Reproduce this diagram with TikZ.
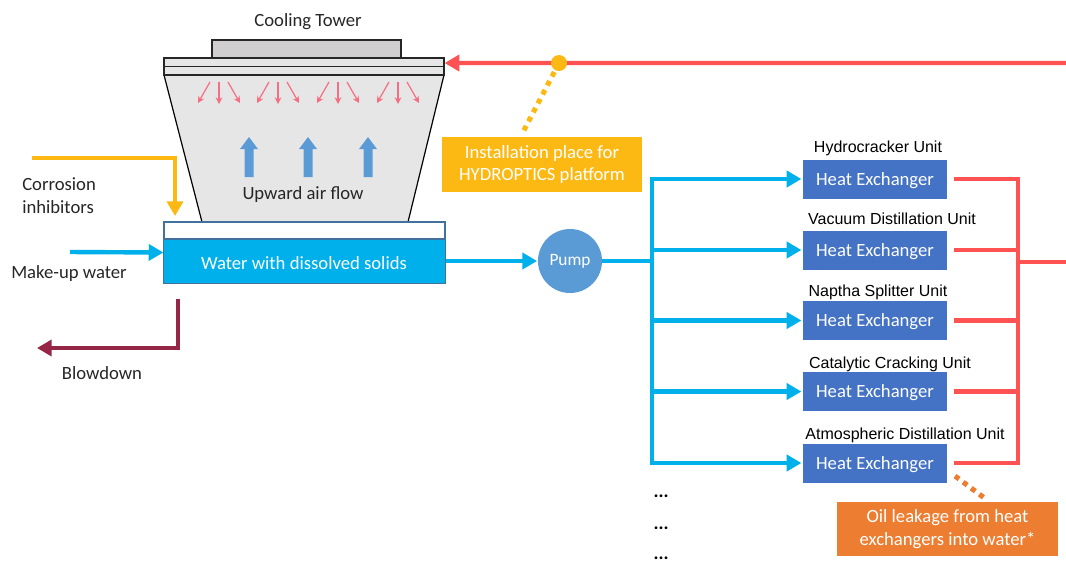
\documentclass[tikz,border=0pt]{standalone}
\usepackage{fontspec}
\setmainfont{Carlito}
\newfontfamily\arialf{Liberation Sans}
\usetikzlibrary{arrows.meta,calc}
\definecolor{cyanC}{RGB}{0,176,235}
\definecolor{redC}{RGB}{255,82,82}
\definecolor{yelC}{RGB}{253,185,19}
\definecolor{maroonC}{RGB}{150,38,70}
\definecolor{hxC}{RGB}{68,114,196}
\definecolor{pumpC}{RGB}{91,155,213}
\definecolor{oilC}{RGB}{237,125,49}
\definecolor{pinkC}{RGB}{245,110,130}
\definecolor{towerC}{RGB}{231,230,230}
\definecolor{fanC}{RGB}{208,206,206}
\definecolor{basinEdge}{RGB}{65,113,156}
\begin{document}
\begin{tikzpicture}[x=0.75pt,y=-0.75pt,
  txt/.style={font=\fontsize{14}{17}\selectfont, inner sep=0pt, text=black!85, yshift=-1.5pt},
  wtxt/.style={font=\fontsize{14}{17}\selectfont, inner sep=0pt, text=white, align=center, yshift=-1.2pt},
  unitlbl/.style={font=\arialf\fontsize{12}{14}\selectfont, inner sep=0pt, text=black},
  hxbox/.style={rectangle, fill=hxC, minimum width=108pt, minimum height=29.25pt, inner sep=0pt, text=white, font=\fontsize{14}{17}\selectfont, text depth=0.5pt},
  pipe/.style={line width=3.3pt},
  cyanline/.style={pipe, draw=cyanC},
  cyanarr/.style={pipe, draw=cyanC, -{Triangle[length=11pt,width=12pt]}},
  redline/.style={pipe, draw=redC},
  redarr/.style={pipe, draw=redC, -{Triangle[length=11pt,width=12pt]}},
  yelarr/.style={pipe, draw=yelC, -{Triangle[length=11pt,width=12pt]}},
  maroonarr/.style={pipe, draw=maroonC, -{Triangle[length=11pt,width=12pt]}},
  dotline/.style={line width=3.8pt, dash pattern=on 3.8pt off 3.8pt},
  pinkarr/.style={draw=pinkC, line width=0.9pt, -{Stealth[length=5pt,width=5pt]}},
  airarrow/.style={fill=pumpC, draw=none},
]
\useasboundingbox (0,0) rectangle (1066,562);

% ---- Cooling tower ----
\draw[fill=towerC, line width=0.9pt] (164,75) -- (444,75) -- (408,222) -- (202,222) -- cycle;
\node[draw=black!85, fill=fanC, line width=0.9pt, minimum width=141.75pt, minimum height=13.5pt, inner sep=0pt] (fan) at (306.5,49) {};
\node[draw=black!85, fill=towerC, line width=0.9pt, minimum width=210pt, minimum height=12.75pt, inner sep=0pt] (deck) at (304,66.5) {};
\draw[black!85, line width=0.9pt] (deck.west) -- (deck.east);
\node[txt] (cttitle) at (308,20) {Cooling Tower};

% spray arrows
\foreach \cx in {219,278,338,398}{
  \draw[pinkarr] (\cx-9,82) -- (\cx-21,103);
  \draw[pinkarr] (\cx,82) -- (\cx,104);
  \draw[pinkarr] (\cx+9,82) -- (\cx+21,103);
}
% upward air arrows
\foreach \cx in {249,308,368}{
  \fill[airarrow] (\cx-4.5,177) -- (\cx-4.5,149) -- (\cx-9,149) -- (\cx,137) -- (\cx+9,149) -- (\cx+4.5,149) -- (\cx+4.5,177) -- cycle;
}
\node[txt] (airtxt) at (303,193) {Upward air flow};

% ---- Basin ----
\node[draw=basinEdge, fill=white, line width=0.9pt, minimum width=210.75pt, minimum height=45.75pt, inner sep=0pt] (basin) at (304.5,252.5) {};
\fill[cyanC] ($(basin.south west)+(0.6pt,-0.6pt)$) rectangle ($(basin.east |- 0,239)+(-0.6pt,0)$);
\draw[basinEdge, line width=0.9pt] (basin.west |- 0,239) -- (basin.east |- 0,239);
\draw[basinEdge, line width=0.9pt] (basin.south west) rectangle (basin.north east);
\node[wtxt] (watertxt) at (304,261) {Water with dissolved solids};

% ---- Inputs / outputs of basin ----
\coordinate (ciA) at (32,158);
\coordinate (ciTip) at (175,216);
\draw[yelarr] (ciA) -| (ciTip);
\node[txt, align=left, anchor=west] (citxt) at (22,193.5) {Corrosion\\inhibitors};

\coordinate (muA) at (70,252);
\draw[cyanarr] (muA) -- (basin.west);
\node[txt, anchor=west] (mutxt) at (11,272) {Make-up water};

\coordinate (bdA) at (178,299);
\coordinate (bdTip) at (37,348);
\draw[maroonarr] (bdA) |- (bdTip);
\node[txt] (bdtxt) at (102,371) {Blowdown};

% ---- Pump ----
\node[circle, fill=pumpC, minimum size=48pt, inner sep=0pt, text=white, font=\fontsize{13}{15}\selectfont] (pump) at (570,261) {Pump};
\draw[cyanarr] (basin.east |- pump) -- ([xshift=-0.5pt]pump.west);

% ---- Heat exchangers ----
\node[hxbox] (hx1) at (875,179) {Heat Exchanger};
\node[hxbox] (hx2) at (875,250) {Heat Exchanger};
\node[hxbox] (hx3) at (875,320.5) {Heat Exchanger};
\node[hxbox] (hx4) at (875,391.5) {Heat Exchanger};
\node[hxbox] (hx5) at (875,463) {Heat Exchanger};
\node[unitlbl] (u1) at (878,148) {Hydrocracker Unit};
\node[unitlbl] (u2) at (892,219) {Vacuum Distillation Unit};
\node[unitlbl] (u3) at (878,292) {Naptha Splitter Unit};
\node[unitlbl] (u4) at (890,364) {Catalytic Cracking Unit};
\node[unitlbl] (u5) at (905,435) {Atmospheric Distillation Unit};

% supply bus
\coordinate (busTop) at (652,179);
\coordinate (busBot) at (652,463);
\draw[cyanline] (pump.east) -- (pump -| busTop);
\draw[cyanline, line cap=rect] (busTop) -- (busBot);
\foreach \i in {1,...,5}{
  \draw[cyanarr] (busTop |- hx\i) -- ([xshift=-1pt]hx\i.west);
}
% return bus
\coordinate (rTop) at (1018,179);
\coordinate (rBot) at (1018,463);
\coordinate (rOut) at (1066,262);
\draw[redline, line cap=rect] (rTop) -- (rBot);
\foreach \i in {1,...,5}{
  \draw[redline] ([xshift=5pt]hx\i.east) -- (rTop |- hx\i);
}
\draw[redline] (rTop |- rOut) -- (rOut);

% ---- Return to tower ----
\coordinate (retA) at (1066,63);
\draw[redarr] (retA) -- ([yshift=2.6pt]deck.east);

% ---- Installation place ----
\node[fill=yelC, minimum width=150pt, minimum height=41.25pt, inner sep=0pt, text=white, align=center, font=\fontsize{14}{17}\selectfont] (inst) at (542,164.5) {Installation place for\\HYDROPTICS platform};
\coordinate (dotEnd) at (522,134);
\draw[dotline, draw=yelC] (559,63) -- (dotEnd);
\node[circle, fill=yelC, minimum size=12pt, inner sep=0pt] (ydot) at (559,63) {};

% ---- Oil leakage ----
\node[fill=oilC, minimum width=165.75pt, minimum height=40.5pt, inner sep=0pt, text=white, align=center, font=\fontsize{14}{17}\selectfont] (oil) at (947.5,529) {Oil leakage from heat\\exchangers into water*};
\coordinate (oilA) at (955,476);
\coordinate (oilB) at (987,500);
\draw[dotline, draw=oilC] (oilA) -- (oilB);

% ---- more units ----
\node[txt, text=black, font=\bfseries\fontsize{14}{17}\selectfont] (d1) at (661,494) {...};
\node[txt, text=black, font=\bfseries\fontsize{14}{17}\selectfont] (d2) at (661,526) {...};
\node[txt, text=black, font=\bfseries\fontsize{14}{17}\selectfont] (d3) at (661,556) {...};
\end{tikzpicture}
\end{document}
